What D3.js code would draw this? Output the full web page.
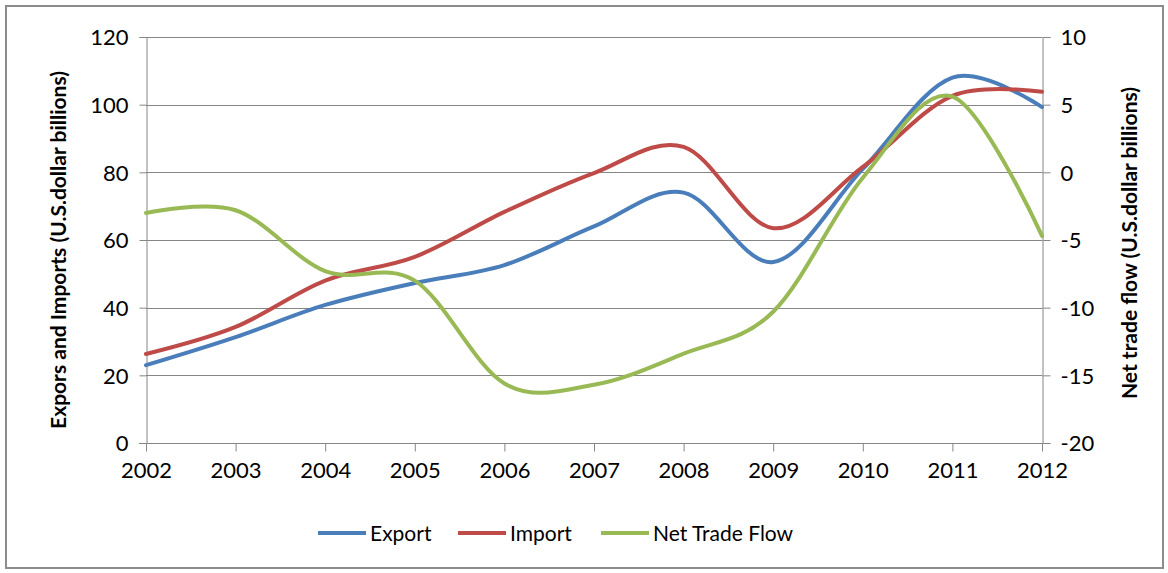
<!DOCTYPE html>
<html>
<head>
<meta charset="utf-8">
<script src="https://cdn.jsdelivr.net/npm/d3@7"></script>
<style>
  html, body { margin: 0; padding: 0; background: #fff; }
  svg { display: block; }
  text { font-family: Lato, "Open Sans", sans-serif; fill: #000; }
</style>
</head>
<body>
<svg id="chart" width="1168" height="573"></svg>
<script>
const years = [2002, 2003, 2004, 2005, 2006, 2007, 2008, 2009, 2010, 2011, 2012];
const exportVals = [23.0, 31.3, 40.8, 47.3, 52.6, 64.0, 74.0, 53.5, 81.0, 108.0, 99.3];
const importVals = [26.3, 34.3, 48.0, 55.0, 68.3, 79.8, 87.5, 63.5, 81.6, 102.6, 103.8];
const netVals = [-3.0, -2.8, -7.3, -8.0, -15.6, -15.7, -13.4, -10.3, -0.4, 5.6, -4.7];
const leftTicks = [0, 20, 40, 60, 80, 100, 120];
const rightTicks = [-20, -15, -10, -5, 0, 5, 10];
const seriesNames = ["Export", "Import", "Net Trade Flow"];
const seriesColors = ["#4a7ebb", "#be4b48", "#98b954"];

const svg = d3.select("#chart");
const m = { left: 146, right: 1042, top: 37, bottom: 443 };

// outer border
svg.append("rect").attr("x", 6).attr("y", 6).attr("width", 1157).attr("height", 562)
  .attr("fill", "#fff").attr("stroke", "#8c8c8c").attr("stroke-width", 2);

const x = d3.scaleLinear().domain([2002, 2012]).range([m.left, m.right]);
const yL = d3.scaleLinear().domain([0, 120]).range([m.bottom, m.top]);
const yR = d3.scaleLinear().domain([-20, 10]).range([m.bottom, m.top]);

// gridlines
svg.append("g").selectAll("line").data(leftTicks.filter(d => d > 0)).join("line")
  .attr("x1", m.left).attr("x2", m.right)
  .attr("y1", d => Math.round(yL(d)) + 0.5).attr("y2", d => Math.round(yL(d)) + 0.5)
  .attr("stroke", "#868686").attr("stroke-width", 1);

// left axis
const gL = svg.append("g").attr("transform", `translate(${m.left + 0.5},0)`)
  .call(d3.axisLeft(yL).tickValues(leftTicks).tickSize(7).tickPadding(11).tickFormat(d3.format("d")));
// right axis
const gR = svg.append("g").attr("transform", `translate(${m.right + 0.5},0)`)
  .call(d3.axisRight(yR).tickValues(rightTicks).tickSize(8).tickPadding(10).tickFormat(d => d < 0 ? "-" + Math.abs(d) : d));
// bottom axis
const gB = svg.append("g").attr("transform", `translate(0,${m.bottom + 0.5})`)
  .call(d3.axisBottom(x).tickValues(years).tickSize(8).tickPadding(11).tickFormat(d3.format("d")));

[gL, gR, gB].forEach(g => {
  g.select(".domain").attr("stroke", "#868686").attr("stroke-width", 1);
  g.selectAll(".tick line").attr("stroke", "#868686");
  g.selectAll(".tick text").style("font-size", "22px").style("font-family", "Lato, sans-serif").attr("fill", "#000");
});
gB.select(".domain").attr("d", `M${m.left - 7},0H${m.right + 8}`);
gL.selectAll(".tick text").attr("dy", "0.36em");
gR.selectAll(".tick text").attr("dy", "0.36em");

// lines
const curve = d3.curveCardinal.tension(0);
const lineL = d3.line().x((d, i) => x(years[i])).y(d => yL(d)).curve(curve);
const lineR = d3.line().x((d, i) => x(years[i])).y(d => yR(d)).curve(curve);

const plot = svg.append("g");
plot.append("path").datum(exportVals).attr("d", lineL)
  .attr("fill", "none").attr("stroke", seriesColors[0]).attr("stroke-width", 4).attr("stroke-linecap", "round");
plot.append("path").datum(importVals).attr("d", lineL)
  .attr("fill", "none").attr("stroke", seriesColors[1]).attr("stroke-width", 4).attr("stroke-linecap", "round");
plot.append("path").datum(netVals).attr("d", lineR)
  .attr("fill", "none").attr("stroke", seriesColors[2]).attr("stroke-width", 4).attr("stroke-linecap", "round");

// axis titles
svg.append("text").attr("transform", "translate(66,250) rotate(-90)")
  .attr("text-anchor", "middle").style("font-size", "21px").style("font-weight", "bold")
  .text("Expors and Imports (U.S.dollar billions)");
svg.append("text").attr("transform", "translate(1137,243) rotate(-90)")
  .attr("text-anchor", "middle").style("font-size", "21px").style("font-weight", "bold")
  .text("Net trade flow (U.S.dollar billions)");

// legend
const legX = [318, 458, 601];
const lg = svg.append("g");
seriesNames.forEach((name, i) => {
  lg.append("line").attr("x1", legX[i]).attr("x2", legX[i] + 48)
    .attr("y1", 533).attr("y2", 533).attr("stroke", seriesColors[i]).attr("stroke-width", 4);
  lg.append("text").attr("x", legX[i] + 52).attr("y", 533).attr("dy", "0.36em")
    .style("font-size", "21px").text(name);
});
</script>
</body>
</html>
